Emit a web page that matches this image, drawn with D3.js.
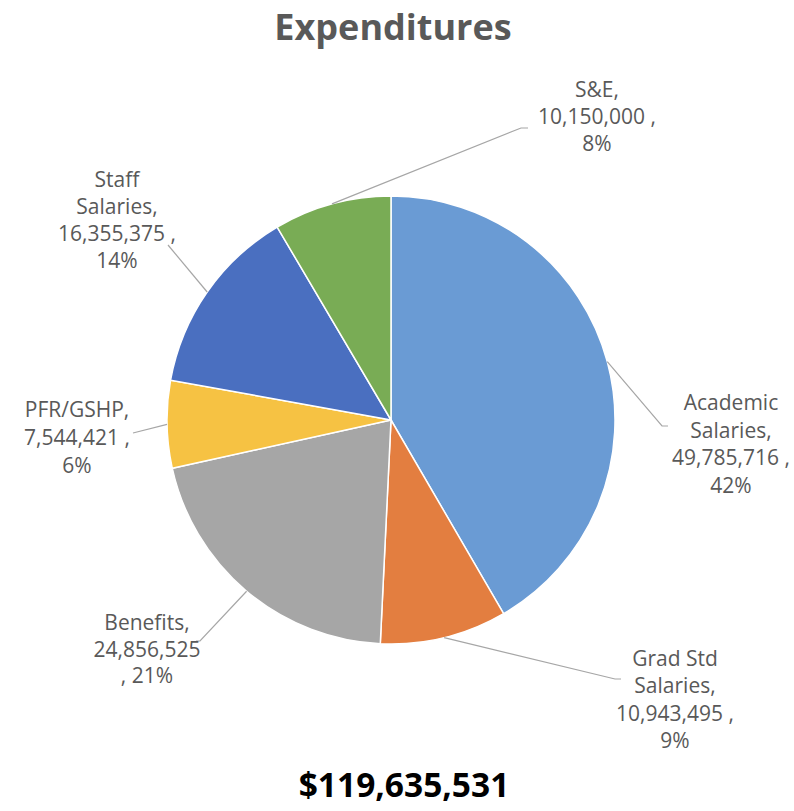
<!DOCTYPE html>
<html><head><meta charset="utf-8">
<script src="https://cdn.jsdelivr.net/npm/d3@7"></script>
<style>body{margin:0;background:#fff}svg{display:block}</style>
</head><body>
<script>
const categories = ["Academic Salaries","Grad Std Salaries","Benefits","PFR/GSHP","Staff Salaries","S&E"];
const values = [49785716,10943495,24856525,7544421,16355375,10150000];
const colors = ["#6A9BD4","#E37E40","#A6A6A6","#F6C243","#4A6FC0","#79AC55"];
const labelLines = [
  ["Academic","Salaries,","49,785,716 ,","42%"],
  ["Grad Std","Salaries,","10,943,495 ,","9%"],
  ["Benefits,","24,856,525",", 21%"],
  ["PFR/GSHP,","7,544,421 ,","6%"],
  ["Staff","Salaries,","16,355,375 ,","14%"],
  ["S&E,","10,150,000 ,","8%"]
];
const title = "Expenditures";
const totalText = "$119,635,531";

// layout (positions only)
const W=794,H=811,cx=391,cy=420,R=224;
const labelLayout = [
  {x:731,y:410,lh:27.5,lx:[662,668],ly:426},
  {x:675,y:666,lh:27.3,lx:[615,621],ly:679},
  {x:147,y:630,lh:26.5,lx:[200,196],ly:641},
  {x:77,y:417,lh:28,lx:[133,133],ly:433},
  {x:117,y:187,lh:27,lx:[168,168],ly:245},
  {x:597,y:97,lh:27,lx:[521,528],ly:128}
];

const svg=d3.select("body").append("svg").attr("width",W).attr("height",H);
svg.append("text").attr("x",393).attr("y",40).attr("text-anchor","middle")
  .attr("font-family","Open Sans").attr("font-weight","bold").attr("font-size",36)
  .attr("fill","#595959").text(title);

const data=categories.map((c,i)=>({c,v:values[i],i}));
const pie=d3.pie().value(d=>d.v).sort(null);
const arcs=pie(data);
const arc=d3.arc().innerRadius(0).outerRadius(R);
const g=svg.append("g").attr("transform",`translate(${cx},${cy})`);
g.selectAll("path").data(arcs).join("path").attr("d",arc)
  .attr("fill",d=>colors[d.data.i]).attr("stroke","#fff").attr("stroke-width",1.5);

// leader lines
arcs.forEach((a,i)=>{
  const m=(a.startAngle+a.endAngle)/2;
  const px=cx+R*Math.sin(m), py=cy-R*Math.cos(m);
  const L=labelLayout[i];
  svg.append("polyline").attr("points",`${px},${py} ${L.lx[0]},${L.ly} ${L.lx[1]},${L.ly}`)
    .attr("fill","none").attr("stroke","#A6A6A6").attr("stroke-width",1.2);
});

// labels
labelLines.forEach((lines,i)=>{
  const L=labelLayout[i];
  const t=svg.append("text").attr("text-anchor","middle").attr("font-family","Open Sans")
    .attr("font-size",21).attr("fill","#595959");
  lines.forEach((s,j)=>t.append("tspan").attr("x",L.x).attr("y",L.y+j*L.lh).text(s));
});

svg.append("text").attr("x",404).attr("y",797).attr("text-anchor","middle")
  .attr("font-family","Open Sans").attr("font-weight","bold").attr("font-size",33.5)
  .attr("fill","#000").text(totalText);
</script>
</body></html>
